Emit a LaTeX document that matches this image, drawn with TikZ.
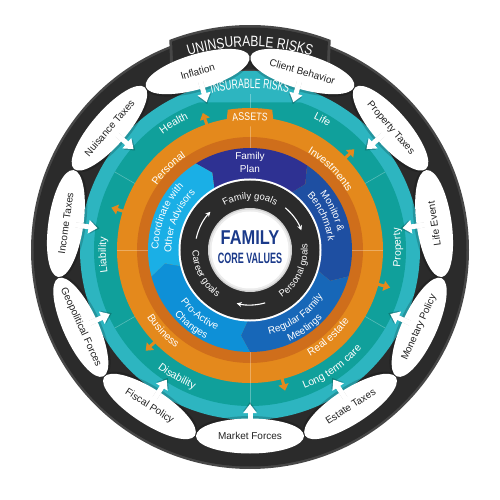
\documentclass[tikz,border=0pt]{standalone}
\usepackage{fontspec}
\usepackage{graphicx}
\setmainfont{Liberation Sans}
\newfontfamily\condA{Liberation Sans}[FakeStretch=0.8]
\newfontfamily\condB{Liberation Sans}[FakeStretch=0.64]
\usetikzlibrary{decorations.text,arrows.meta,shapes.geometric}
\definecolor{blk}{HTML}{2B2B2B}
\definecolor{blkrim}{HTML}{474747}
\definecolor{tealL}{HTML}{2DB5C0}
\definecolor{tealD}{HTML}{10A09B}
\definecolor{orgL}{HTML}{E4891C}
\definecolor{orgD}{HTML}{CF6E1B}
\definecolor{bPlan}{HTML}{2E3192}
\definecolor{bMon}{HTML}{1E4FA2}
\definecolor{bReg}{HTML}{1767B8}
\definecolor{bPro}{HTML}{0E90D7}
\definecolor{bCoo}{HTML}{1AAFE6}
\definecolor{navy}{HTML}{1B3A8A}
\definecolor{ink}{HTML}{222222}
\newcommand\fmtR{\fontsize{10.5}{12}\selectfont}
\newcommand\fmtB{\fontsize{10}{12}\selectfont}
\newcommand\fmtG{\fontsize{9.5}{11}\selectfont}
% radius of baseline, start angle, end angle, format, text
\newcommand\ringlabel[5]{\path[decorate,decoration={text along path,text align=center,text color=white,text={|#4|#5}}] (#2:#1) arc[start angle=#2,end angle=#3,radius=#1];}
\newcommand\blueseg[3]{\fill[#3] (#1:102) arc[start angle=#1,end angle=#2,radius=102] -- (#2-6:86) -- (#2:66) arc[start angle=#2,end angle=#1,radius=66] -- (#1-6:86) -- cycle;}
\tikzset{
  ell/.style={ellipse,fill=white,minimum width=108pt,minimum height=35pt,inner sep=0pt,text=ink,font=\fontsize{10}{12}\selectfont},
  arrw/.style={white,line width=5pt,-{Triangle[width=13pt,length=9pt]}},
  arrwsh/.style={black,opacity=0.2,line width=5pt,-{Triangle[width=13pt,length=9pt]}},
  oarrw/.style={orgL,line width=3pt,-{Triangle[width=10pt,length=6.5pt]}},
  inarrw/.style={white,line width=1.1pt,-{Stealth[length=5pt,width=5pt]}},
  divline/.style={white,opacity=0.3,line width=0.6pt}
}
\begin{document}
\begin{tikzpicture}[x=1pt,y=1pt]
\useasboundingbox (-250,-250) rectangle (250,250);
\fill[white] (-250,-250) rectangle (250,250);
% outer black ring
\fill[blkrim] (0,0) circle (219);
\fill[blk] (0,0) circle (216.5);
% uninsurable tab
\fill[blkrim] (114:196) -- (111:225) arc[start angle=111,end angle=69,radius=225] -- (66:196) -- cycle;
\fill[blk] (113:196) -- (110.5:222.5) arc[start angle=110.5,end angle=69.5,radius=222.5] -- (67:196) -- cycle;
% teal ring
\fill[tealL] (0,0) circle (170);
\fill[tealD] (0,0) circle (156);
% insurable tab
\fill[tealL] (109:156) -- (106.5:179) arc[start angle=106.5,end angle=73.5,radius=179] -- (71:156) -- cycle;
\foreach \a in {30,90,150,210,270,330} \draw[divline] (\a:133) -- (\a:156);
% ellipses
\foreach \k/\ang/\rot/\txt in {0/-90/0/Market Forces,1/-57.27/32.73/Estate Taxes,2/-24.55/65.45/Monetary Policy,3/8.18/98.18/Life Event,4/40.91/-49.09/Property Taxes,5/73.64/-16.36/Client Behavior,6/106.36/16.36/Inflation,7/139.09/49.09/Nuisance Taxes,8/171.82/81.82/Income Taxes,9/204.55/-65.45/Geopolitical Forces,10/237.27/-32.73/Fiscal Policy}{
  \fill[black,opacity=0.18,shift={(\ang:183.5)},rotate=\rot] (0,0) ellipse[x radius=54,y radius=17.5];
  \node[ell,rotate=\rot] (e\k) at (\ang:186) {\makebox[0pt]{\txt}};
  \coordinate (s\k) at (\ang:178);
  \coordinate (t\k) at (\ang:154);
  \coordinate (ss\k) at (\ang:176);
  \coordinate (ts\k) at (\ang:152);
  \draw[arrwsh] (ss\k) -- (ts\k);
  \draw[arrw] (s\k) -- (t\k);
}
% orange ring
\fill[orgL] (0,0) circle (133);
\fill[orgD] (0,0) circle (113);
\foreach \a in {0,90,180,270} \draw[divline] (\a:102) -- (\a:133);
\foreach \a in {109,44,-15,-76,224,163} \draw[oarrw] (\a:128) -- (\a:145);
% assets tab
\fill[orgL] (101:126) -- (99:142) arc[start angle=99,end angle=81,radius=142] -- (79:126) -- cycle;
% blue sectors
\blueseg{122}{56}{bPlan}
\blueseg{56}{-15}{bMon}
\blueseg{-15}{-90}{bReg}
\blueseg{-90}{-165}{bPro}
\blueseg{-165}{-238}{bCoo}
% inner black ring and centre
\fill[white] (0,0) circle (71.5);
\fill[blk] (0,0) circle (69.5);
\fill[gray!35] (0,0) circle (42);
\fill[gray!15] (0,0) circle (40.5);
\fill[white] (0,0) circle (38.5);
% inner arrows
\draw[inarrw] (168:55) arc[start angle=168,end angle=136,radius=55];
\draw[inarrw] (50:55) arc[start angle=50,end angle=21,radius=55];
\draw[inarrw] (286:55) arc[start angle=286,end angle=256,radius=55];
% centre text
\node[text=navy,inner sep=0pt] (core1) at (0,12) {\scalebox{0.82}[1]{\fontsize{20}{20}\selectfont\bfseries FAMILY}};
\node[text=navy,inner sep=0pt] (core2) at (0,-8) {\scalebox{0.6}[1]{\fontsize{15}{15}\selectfont\bfseries CORE VALUES}};
\node[text=white,align=center,font=\fontsize{10}{13}\selectfont] (plan) at (0,88) {Family\\Plan};
% curved labels
\ringlabel{203.5}{140}{40}{\condA\fontsize{15}{17}\selectfont}{UNINSURABLE RISKS}
\ringlabel{161.5}{130}{50}{\condB\fontsize{13.5}{15}\selectfont}{INSURABLE RISKS}
\ringlabel{129.5}{120}{60}{\condA\fontsize{11}{13}\selectfont}{ASSETS}
\ringlabel{145}{151}{91}{\fmtR}{Health}
\ringlabel{146}{91}{31}{\fmtR}{Life}
\ringlabel{144}{212}{152}{\fmtR}{Liability}
\ringlabel{151}{-29}{31}{\fmtR}{Property}
\ringlabel{150}{210}{270}{\fmtR}{Disability}
\ringlabel{149}{-90}{-20}{\fmtR}{Long term care}
\ringlabel{113}{170}{100}{\fmtR}{Personal}
\ringlabel{113}{80}{10}{\fmtR}{Investments}
\ringlabel{122}{-83}{-13}{\fmtR}{Real estate}
\ringlabel{123}{188}{258}{\fmtR}{Business}
\ringlabel{51}{160}{20}{\fmtG}{Family goals}
\ringlabel{57.5}{-95}{45}{\fmtG}{Personal goals}
\ringlabel{57.5}{138}{278}{\fmtG}{Career goals}
\ringlabel{89.5}{70}{-20}{\fmtB}{Monitor {\&}}
\ringlabel{78.5}{70}{-20}{\fmtB}{Benchmark}
\ringlabel{86.5}{-100}{-10}{\fmtB}{Regular Family}
\ringlabel{99.5}{-100}{-10}{\fmtB}{Meetings}
\ringlabel{86.5}{187}{277}{\fmtB}{Pro-Active}
\ringlabel{99.5}{187}{277}{\fmtB}{Changes}
\ringlabel{91.5}{203}{113}{\fmtB}{Coordinate with}
\ringlabel{78.5}{203}{113}{\fmtB}{Other Advisors}
\end{tikzpicture}
\end{document}
